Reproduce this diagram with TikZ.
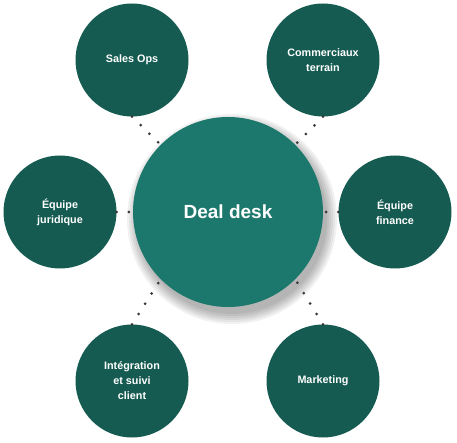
\documentclass[tikz,border=0pt]{standalone}
\usepackage{fontspec}
\setmainfont{Liberation Sans}
\definecolor{satc}{HTML}{155B51}
\definecolor{hubc}{HTML}{1C786C}
\definecolor{dotc}{HTML}{383838}
\begin{document}
\begin{tikzpicture}[x=1pt,y=-1pt,
  sat/.style={circle, fill=satc, minimum size=113pt, inner sep=0pt, text=white,
    font=\bfseries\fontsize{10.8}{15}\selectfont, align=center},
  hub/.style={circle, fill=hubc, minimum size=190pt, inner sep=0pt, text=white,
    font=\bfseries\fontsize{19}{22}\selectfont},
  link/.style={draw=dotc, line width=3pt, line cap=round, dash pattern=on 0pt off 12.2pt}]
\useasboundingbox (0,0) rectangle (457,443);
% soft shadow of the hub
\foreach \r in {105,103,101,99,97,95}{
  \fill[black, opacity=0.055] (232,219) circle (\r pt);
}
\node[hub] (hub) at (228,212) {Deal desk};
\node[sat] (sales) at (132,60) {Sales Ops};
\node[sat] (comm) at (323,60) {Commerciaux\\terrain};
\node[sat] (jur) at (60,212) {Équipe\\juridique};
\node[sat] (fin) at (395,212) {Équipe\\finance};
\node[sat] (integ) at (132,381) {Intégration\\et suivi\\client};
\node[sat] (mkt) at (323,381) {Marketing};
\draw[link] (sales.south) -- (hub.135);
\draw[link] (comm.south) -- (hub.45);
\draw[link] (jur.east) -- (hub.west);
\draw[link] (fin.west) -- (hub.east);
\draw[link] (integ.north) -- (hub.225);
\draw[link] (mkt.north) -- (hub.315);
\end{tikzpicture}
\end{document}
